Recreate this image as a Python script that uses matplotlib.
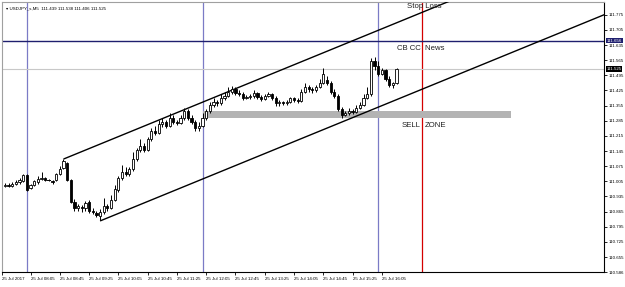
import matplotlib
matplotlib.use("Agg")
import matplotlib.pyplot as plt
import matplotlib.transforms as mtransforms
from matplotlib.patches import Rectangle

plt.rcParams["font.family"] = ["Liberation Sans", "DejaVu Sans"]

# ---------------- data ----------------
opens = [110.985,110.990,110.985,110.994,111.000,111.005,111.034,110.975,110.990,111.000,
         111.015,111.020,111.012,111.008,111.010,111.040,111.065,111.090,111.011,110.910,
         110.880,110.885,110.880,110.910,110.870,110.860,110.845,110.865,110.890,110.880,
         110.920,110.965,111.020,111.050,111.040,111.060,111.110,111.150,111.170,111.150,
         111.200,111.240,111.230,111.270,111.280,111.260,111.300,111.280,111.275,111.300,
         111.330,111.300,111.280,111.250,111.260,111.300,111.330,111.360,111.370,111.365,
         111.390,111.400,111.420,111.430,111.415,111.410,111.390,111.395,111.400,111.415,
         111.395,111.385,111.400,111.410,111.390,111.365,111.370,111.368,111.372,111.390,
         111.380,111.375,111.420,111.440,111.430,111.425,111.440,111.460,111.475,111.460,
         111.420,111.400,111.340,111.310,111.320,111.330,111.325,111.345,111.360,111.390,
         111.410,111.560,111.540,111.500,111.520,111.480,111.450,111.460]
highs = [110.997,110.999,111.000,111.010,111.020,111.040,111.040,110.995,111.010,111.030,
         111.050,111.025,111.015,111.012,111.045,111.075,111.108,111.095,111.015,110.925,
         110.900,110.895,110.915,110.920,110.880,110.870,110.875,110.930,110.900,110.940,
         110.990,111.030,111.080,111.070,111.070,111.140,111.160,111.200,111.180,111.210,
         111.250,111.260,111.290,111.300,111.290,111.320,111.310,111.290,111.310,111.345,
         111.340,111.310,111.290,111.280,111.320,111.340,111.370,111.390,111.380,111.410,
         111.420,111.440,111.445,111.440,111.425,111.420,111.405,111.410,111.425,111.420,
         111.405,111.410,111.420,111.415,111.400,111.380,111.375,111.380,111.395,111.395,
         111.390,111.430,111.460,111.450,111.440,111.450,111.480,111.530,111.490,111.470,
         111.430,111.410,111.350,111.330,111.345,111.340,111.360,111.370,111.410,111.440,
         111.575,111.580,111.560,111.530,111.525,111.490,111.465,111.530]
lows = [110.980,110.978,110.980,110.990,110.995,111.000,110.960,110.970,110.985,110.995,
        111.010,111.005,111.005,110.995,111.005,111.035,111.060,111.005,110.905,110.870,
        110.870,110.865,110.870,110.860,110.855,110.840,110.827,110.855,110.870,110.875,
        110.915,110.955,111.010,111.030,111.030,111.055,111.100,111.140,111.140,111.145,
        111.190,111.220,111.225,111.255,111.250,111.255,111.270,111.265,111.270,111.290,
        111.290,111.270,111.240,111.240,111.255,111.290,111.320,111.350,111.355,111.360,
        111.380,111.395,111.410,111.405,111.400,111.380,111.385,111.385,111.390,111.385,
        111.375,111.380,111.395,111.380,111.355,111.355,111.360,111.360,111.365,111.370,
        111.365,111.370,111.415,111.420,111.415,111.420,111.435,111.455,111.450,111.410,
        111.390,111.330,111.300,111.305,111.310,111.315,111.320,111.340,111.355,111.385,
        111.400,111.520,111.490,111.495,111.470,111.440,111.435,111.455]
closes = [110.990,110.985,110.994,111.004,111.012,111.034,110.965,110.990,111.005,111.015,
          111.020,111.012,111.010,111.004,111.040,111.060,111.100,111.011,110.910,110.880,
          110.890,110.880,110.905,110.870,110.865,110.850,110.865,110.890,110.880,110.920,
          110.970,111.020,111.050,111.040,111.060,111.110,111.150,111.170,111.150,111.200,
          111.240,111.230,111.270,111.280,111.260,111.300,111.280,111.275,111.300,111.330,
          111.300,111.280,111.250,111.260,111.300,111.330,111.360,111.370,111.365,111.390,
          111.400,111.420,111.430,111.415,111.410,111.390,111.395,111.400,111.415,111.395,
          111.385,111.400,111.410,111.390,111.365,111.370,111.368,111.372,111.390,111.380,
          111.375,111.420,111.440,111.430,111.425,111.440,111.460,111.500,111.460,111.420,
          111.400,111.340,111.310,111.320,111.330,111.325,111.345,111.360,111.390,111.410,
          111.560,111.540,111.500,111.520,111.480,111.450,111.460,111.525]

price_ticks = [110.586,110.655,110.725,110.795,110.865,110.935,111.005,111.075,111.145,
               111.215,111.285,111.355,111.425,111.495,111.565,111.635,111.705,111.775]
time_labels = ["25 Jul 2017","25 Jul 08:05","25 Jul 08:45","25 Jul 09:25","25 Jul 10:05",
               "25 Jul 10:45","25 Jul 11:25","25 Jul 12:05","25 Jul 12:45","25 Jul 13:25",
               "25 Jul 14:05","25 Jul 14:45","25 Jul 15:25","25 Jul 16:05"]
time_label_bars = [-0.8,7,15,23,31,39,47,55,63,71,79,87,95,103]

hline_level = 111.656
bid_level = 111.525
vline_bars_blue = [6,54,102]
vline_bar_red = 114
zone_bars = (54, 138.3)
zone_prices = (111.298, 111.330)
upper_channel = (16, 111.108)
lower_channel = (26, 110.822)
channel_slope = 0.00692  # price per bar
header = "USDJPY_s,M5  111.439 111.538 111.406 111.525"

# ---------------- figure ----------------
W, H = 625, 287
fig = plt.figure(figsize=(W/100, H/100), dpi=100)
fig.patch.set_facecolor("white")
ax = fig.add_axes([2/W, 15/H, 602/W, 270/H])
ax.set_facecolor("white")
xmin, xmax = -0.8, 163.7
ax.set_xlim(xmin, xmax)
ax.set_ylim(110.586, 111.834)

for sp in ["left", "top"]:
    ax.spines[sp].set_color("#a0a0a0")
    ax.spines[sp].set_linewidth(0.8)
for sp in ["right", "bottom"]:
    ax.spines[sp].set_color("black")
    ax.spines[sp].set_linewidth(0.8)

# vertical lines
for b in vline_bars_blue:
    ax.axvline(b, color="#7b7bc6", lw=0.9, zorder=1)
ax.axvline(vline_bar_red, color="#d40000", lw=0.9, zorder=1)

# horizontal lines
ax.axhline(hline_level, color="#1f1f6e", lw=1.0, zorder=1)
ax.axhline(bid_level, color="#c8c8c8", lw=0.8, zorder=1)

# sell zone
ax.add_patch(Rectangle((zone_bars[0], zone_prices[0]), zone_bars[1]-zone_bars[0],
                       zone_prices[1]-zone_prices[0], facecolor="#b3b3b3",
                       edgecolor="none", zorder=1.5))

# channel rays
for (b0, p0) in (upper_channel, lower_channel):
    ax.plot([b0, xmax + 5], [p0, p0 + channel_slope*(xmax + 5 - b0)],
            color="black", lw=1.0, zorder=3, solid_capstyle="butt")

# candles
bw = 0.6
for i, (o, h, l, c) in enumerate(zip(opens, highs, lows, closes)):
    ax.plot([i, i], [l, h], color="black", lw=0.7, zorder=4, solid_capstyle="butt")
    lo, hi = min(o, c), max(o, c)
    if hi - lo < 0.002:
        ax.plot([i - bw/1.6, i + bw/1.6], [o, o], color="black", lw=0.7, zorder=5)
    else:
        fc = "white" if c >= o else "black"
        ax.add_patch(Rectangle((i - bw/2, lo), bw, hi - lo, facecolor=fc,
                               edgecolor="black", lw=0.6, zorder=5))

# ticks
fs = 3.2
ax.yaxis.tick_right()
ax.set_yticks(price_ticks)
ax.set_yticklabels([f"{v:.3f}" for v in price_ticks])
ax.tick_params(axis="y", labelsize=fs, length=2, width=0.6, pad=1.5, colors="black")
ax.set_xticks(time_label_bars)
ax.set_xticklabels(time_labels, ha="left")
ax.tick_params(axis="x", labelsize=fs, length=2, width=0.6, pad=1.5, colors="black")

# price boxes on right axis
trans = mtransforms.blended_transform_factory(ax.transAxes, ax.transData)
ax.text(1.004, hline_level, f"{hline_level:.3f}", transform=trans, fontsize=fs,
        color="white", va="center", ha="left",
        bbox=dict(boxstyle="square,pad=0.2", fc="#1f1f6e", ec="none"), zorder=10, clip_on=False)
ax.text(1.004, bid_level, f"{bid_level:.3f}", transform=trans, fontsize=fs,
        color="white", va="center", ha="left",
        bbox=dict(boxstyle="square,pad=0.2", fc="black", ec="none"), zorder=10, clip_on=False)

# annotations
ax.text(109.9, 111.811, "Stop Loss", fontsize=5.6, color="#202020", va="center", ha="left", zorder=6)
ax.text(107.2, 111.617, "CB CC  News", fontsize=5.6, color="#202020", va="center", ha="left", zorder=6)
ax.text(108.3, 111.261, "SELL", fontsize=5.6, color="#202020", va="center", ha="left", zorder=6)
ax.text(114.8, 111.261, "ZONE", fontsize=5.6, color="#202020", va="center", ha="left", zorder=6)

# header
ax.text(0.006, 0.985, "\u25be " + header, transform=ax.transAxes, fontsize=3.2,
        color="black", va="top", ha="left", zorder=6)

fig.savefig("out.png", dpi=100, facecolor="white")
